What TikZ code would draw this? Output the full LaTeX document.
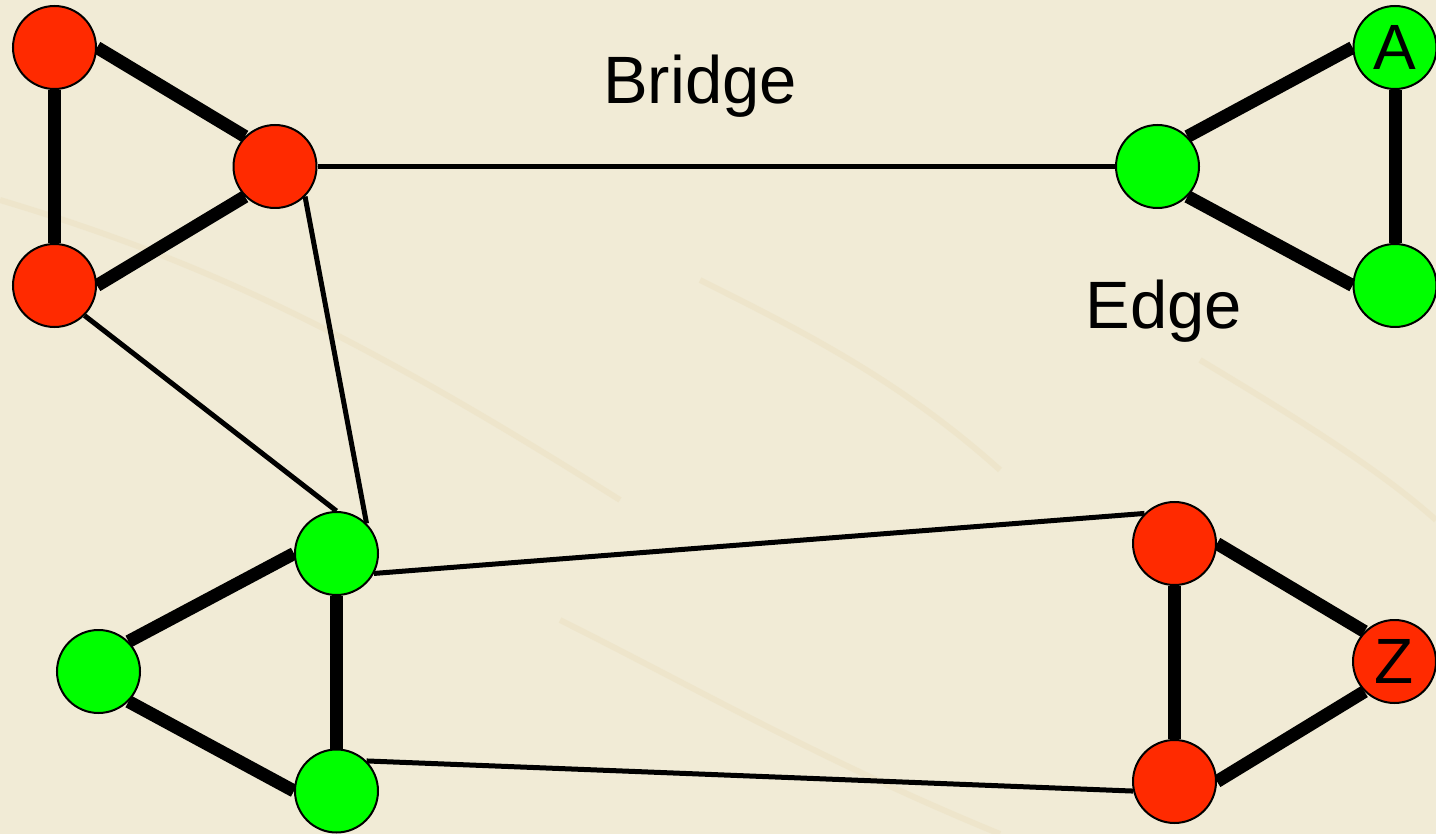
\documentclass[tikz,border=0pt]{standalone}
\usepackage{fontspec}
\setmainfont{Liberation Sans}
\usetikzlibrary{backgrounds}
\definecolor{paper}{HTML}{F1EBD6}
\definecolor{paperdark}{HTML}{E9DCB8}
\definecolor{vred}{HTML}{FF2A00}
\definecolor{vgreen}{HTML}{00FF00}
\tikzset{
  vertex/.style={circle,draw=black,line width=2pt,minimum size=83pt,inner sep=0pt,
    font=\fontsize{64}{64}\selectfont},
  redv/.style={vertex,fill=vred},
  greenv/.style={vertex,fill=vgreen},
  heavy/.style={line width=13pt},
  light/.style={line width=5pt},
  caption/.style={font=\fontsize{67}{80}\selectfont,inner sep=0pt,anchor=base},
  streak/.style={paperdark,line width=6pt,opacity=0.35}
}
\begin{document}
\begin{tikzpicture}[x=1pt,y=-1pt]
\useasboundingbox (0,0) rectangle (1436,834);

% vertices: red clusters
\node[redv] (r1) at (54.5,47.5) {};
\node[redv] (r2) at (275,166.5) {};
\node[redv] (r3) at (54.5,285.5) {};
\node[redv] (r4) at (1174.5,543.5) {};
\node[redv] (z)  at (1394.5,661.5) {Z};
\node[redv] (r6) at (1174.5,781.5) {};
% vertices: green clusters
\node[greenv] (a)  at (1395,47.5) {A};
\node[greenv] (g2) at (1157.5,166.5) {};
\node[greenv] (g3) at (1395,285.5) {};
\node[greenv] (g4) at (336.5,553.5) {};
\node[greenv] (g5) at (98.5,671.5) {};
\node[greenv] (g6) at (336.5,791) {};

% labels
\node[caption] (bridge) at (700,104) {Bridge};
\node[caption] (edge) at (1164,329) {Edge};

\begin{scope}[on background layer]
  % parchment backdrop with faint veins
  \fill[paper] (0,0) rectangle (1436,834);
  \draw[streak] (0,200) .. controls (200,260) and (350,330) .. (620,500);
  \draw[streak] (560,620) .. controls (700,690) and (820,760) .. (1000,834);
  \draw[streak] (700,280) .. controls (800,330) and (900,380) .. (1000,470);
  \draw[streak] (1200,360) .. controls (1300,420) and (1380,470) .. (1436,520);

  % heavy edges inside each cluster
  \draw[heavy] (r1.east) -- (r2.north west);
  \draw[heavy] (r1.south) -- (r3.north);
  \draw[heavy] (r3.east) -- (r2.south west);
  \draw[heavy] (a.west) -- (g2.north east);
  \draw[heavy] (g2.south east) -- (g3.west);
  \draw[heavy] (a.south) -- (g3.north);
  \draw[heavy] (g4.west) -- (g5.north east);
  \draw[heavy] (g5.south east) -- (g6.west);
  \draw[heavy] (g4.south) -- (g6.north);
  \draw[heavy] (r4.east) -- (z.north west);
  \draw[heavy] (z.south west) -- (r6.east);
  \draw[heavy] (r4.south) -- (r6.north);

  % light edges between clusters
  \draw[light] (r2.east) -- (g2.west);
  \draw[light] (r3.south east) -- (g4.north);
  \draw[light] (r2.south east) -- (g4.north east);
  \draw[light] (g4.-28) -- (r4.north west);
  \draw[light] (g6.north east) -- (r6.193);
\end{scope}
\end{tikzpicture}
\end{document}
